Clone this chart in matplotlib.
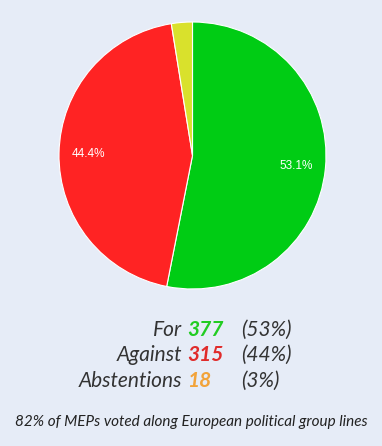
import matplotlib.pyplot as plt

labels = ["For", "Against", "Abstentions"]
votes = [377, 315, 18]
shares = ["(53%)", "(44%)", "(3%)"]
slice_colors = ["#00cc14", "#ff2323", "#d9e12c"]
num_colors = ["#22cc22", "#e02b2b", "#f2a33a"]
note = "82% of MEPs voted along European political group lines"

bg = "#e6ecf7"
W, H = 382, 446
fig = plt.figure(figsize=(W / 100, H / 100), dpi=100, facecolor=bg)

# pie area: center (192.5, 155.5), radius 133.5 px
r = 133.5
ax = fig.add_axes([(192.5 - r) / W, 1 - (155.5 + r) / H, 2 * r / W, 2 * r / H])
ax.set_facecolor(bg)

def fmt(p):
    return f"{p:.1f}%" if p > 10 else ""

wedges, texts, autotexts = ax.pie(
    votes, colors=slice_colors, startangle=90, counterclock=False,
    autopct=fmt, pctdistance=0.78, radius=1,
    wedgeprops=dict(edgecolor="white", linewidth=0.8),
    textprops=dict(color="white", fontsize=8.5, family="Liberation Sans"))
ax.set_xlim(-1, 1)
ax.set_ylim(-1, 1)
ax.set_aspect("equal")
ax.axis("off")

rows_y = [330, 355, 381]
for lab, v, s, c, y in zip(labels, votes, shares, num_colors, rows_y):
    fy = 1 - y / H
    fig.text(182 / W, fy, lab, ha="right", va="center", fontsize=15,
             family="Lato", style="italic", color="#333333")
    fig.text(187 / W, fy, str(v), ha="left", va="center", fontsize=15,
             family="Lato", style="italic", fontweight="bold", color=c)
    fig.text(241 / W, fy, s, ha="left", va="center", fontsize=15,
             family="Lato", style="italic", color="#333333")

fig.text(191 / W, 1 - 422 / H, note, ha="center", va="center", fontsize=11,
         family="Lato", style="italic", color="#222222")

fig.savefig("out.png", dpi=100, facecolor=bg)
